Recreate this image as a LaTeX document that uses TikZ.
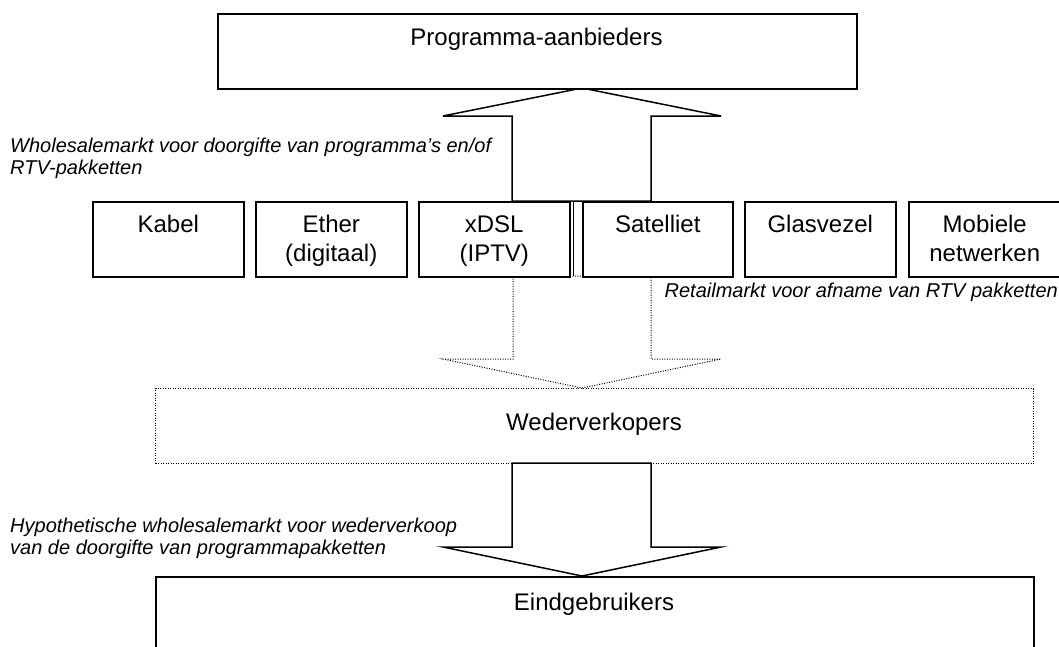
\documentclass[tikz,border=0pt]{standalone}
\usepackage{fontspec}
\setmainfont{Liberation Sans}
\newcommand{\twol}[2]{\begin{tabular}[t]{@{}c@{}}#1\\#2\end{tabular}}
\newcommand{\twoll}[2]{\begin{tabular}[t]{@{}l@{}}#1\\#2\end{tabular}}
\begin{document}
\begin{tikzpicture}[x=1pt,y=-1pt,
  solidbox/.style={draw=black,line width=1.5pt,fill=white,rectangle,inner sep=0pt,anchor=north west},
  dotbox/.style={draw=black,line width=1pt,dash pattern=on 1pt off 1.5pt,rectangle,inner sep=0pt,anchor=north west},
  bigarrow/.style={draw=black,line width=1.5pt,fill=white,line join=miter},
  dotarrow/.style={draw=black,line width=1pt,dash pattern=on 1pt off 1.5pt},
  lbl/.style={font=\fontsize{24}{29}\selectfont,inner sep=0pt,anchor=base},
  ital/.style={font=\fontsize{20}{22.5}\selectfont\itshape,inner sep=0pt,anchor=base west}]
\useasboundingbox (0,0) rectangle (1059,646);

% up arrow (solid) and dotted arrow behind the boxes
\draw[bigarrow] (512,201) -- (512,116) -- (443,116) -- (582,88) -- (721,116) -- (651,116) -- (651,201) -- cycle;
\draw[dotarrow] (513,276) -- (513,359) -- (443,359) -- (582,388) -- (721,359) -- (651,359) -- (651,276) -- cycle;

% top box
\node[solidbox,minimum width=639pt,minimum height=75pt] (prog) at (217,13) {};
\node[lbl] (progt) at (536.5,45) {Programma-aanbieders};

% channel boxes
\draw[line width=1pt] (573,201) -- (573,276);
\node[solidbox,minimum width=151pt,minimum height=75pt] (kabel) at (92,201) {};
\node[solidbox,minimum width=151pt,minimum height=75pt] (ether) at (255,201) {};
\node[solidbox,minimum width=151pt,minimum height=75pt] (xdsl) at (418,201) {};
\node[solidbox,minimum width=150pt,minimum height=75pt] (sat) at (582,201) {};
\node[solidbox,minimum width=151pt,minimum height=75pt] (glas) at (744,201) {};
\node[solidbox,minimum width=152pt,minimum height=75pt] (mob) at (908,201) {};

\node[lbl] (kabelt) at (kabel.north |- 0,232) {Kabel};
\node[lbl] (ethert) at (ether.north |- 0,232) {\twol{Ether}{(digitaal)}};
\node[lbl] (xdslt) at (xdsl.north |- 0,232) {\twol{xDSL}{(IPTV)}};
\node[lbl] (satt) at (sat.north |- 0,232) {Satelliet};
\node[lbl] (glast) at (glas.north |- 0,232) {Glasvezel};
\node[lbl] (mobt) at (mob.north |- 0,232) {\twol{Mobiele}{netwerken}};

% labels
\node[ital] (l1) at (10,152) {\twoll{Wholesalemarkt voor doorgifte van programma’s en/of}{RTV-pakketten}};
\node[ital,anchor=base east] (l2) at (1058,297) {Retailmarkt voor afname van RTV pakketten};

% wederverkopers
\node[dotbox,minimum width=878pt,minimum height=75pt] (weder) at (155,388) {};
\node[lbl] (wedert) at (594,430) {Wederverkopers};

% bottom arrow
\draw[bigarrow] (512,463) -- (512,547) -- (443,547) -- (582,576) -- (721,547) -- (651,547) -- (651,463) -- cycle;

% eindgebruikers
\node[solidbox,fill=none,minimum width=878pt,minimum height=100pt] (eind) at (155,576) {};
\node[lbl] (eindt) at (594,610) {Eindgebruikers};

\node[ital] (l3) at (10,532) {\twoll{Hypothetische wholesalemarkt voor wederverkoop}{van de doorgifte van programmapakketten}};
\end{tikzpicture}
\end{document}
